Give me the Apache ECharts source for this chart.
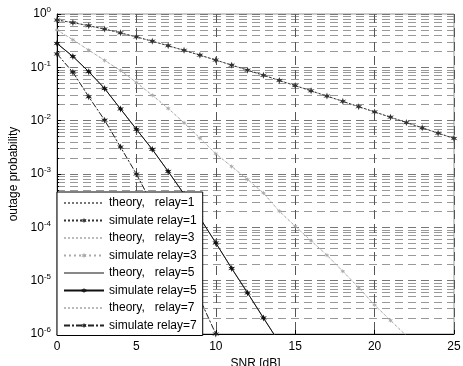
<!DOCTYPE html>
<html>
<head>
<meta charset="utf-8">
<script src="https://cdn.jsdelivr.net/npm/echarts@6/dist/echarts.min.js"></script>
<style>
  html, body { margin: 0; padding: 0; background: #fff; }
  #chart { width: 463px; height: 366px; }
</style>
</head>
<body>
<div id="chart"></div>
<script>
// SNR in dB (x axis)
var snrDb = [0, 1, 2, 3, 4, 5, 6, 7, 8, 9, 10, 11, 12, 13, 14, 15, 16, 17, 18, 19, 20, 21, 22, 23, 24, 25];

// outage probability, one value per dB
var relay1 = [0.770, 0.689, 0.604, 0.521, 0.443, 0.372, 0.309, 0.254, 0.208, 0.169, 0.137, 0.110, 0.0885,
              0.0710, 0.0568, 0.0454, 0.0362, 0.0289, 0.0230, 0.0183, 0.0146, 0.0116, 0.00923, 0.00734, 0.00583, 0.00464];
var relay3 = [0.50, 0.33, 0.21, 0.135, 0.087, 0.052, 0.030, 0.017, 0.0091, 0.0047, 0.0024, 0.00138, 7.9e-4,
              4.4e-4, 2.0e-4, 1.05e-4, 5.6e-5, 3.0e-5, 1.5e-5, 7.4e-6, 3.5e-6, 1.8e-6, 9.3e-7];
var relay5 = [0.28, 0.16, 0.083, 0.040, 0.0166, 0.0069, 0.0029, 0.00112, 4.2e-4, 1.5e-4, 5.1e-5, 1.7e-5, 5.9e-6, 2.0e-6, 6.9e-7];
var relay7 = [0.178, 0.081, 0.028, 0.0102, 0.0032, 0.0010, 2.7e-4, 7.1e-5, 1.8e-5, 4.5e-6, 1.0e-6];

var legendNames = ['theory,   relay=1', 'simulate relay=1', 'theory,   relay=3', 'simulate relay=3',
                   'theory,   relay=5', 'simulate relay=5', 'theory,   relay=7', 'simulate relay=7'];

var xTicks = [0, 5, 10, 15, 20, 25];

function pairs(arr) {
  return arr.map(function (v, i) { return [snrDb[i], v]; });
}

var star = 'path://M0,-10 L2.2,-3.2 L8.7,-5 L4,0 L8.7,5 L2.2,3.2 L0,10 L-2.2,3.2 L-8.7,5 L-4,0 L-8.7,-5 L-2.2,-3.2Z';

var FONT = 'Liberation Sans, Arial, sans-serif';

var chart = echarts.init(document.getElementById('chart'));

// theory curves: plain line, transparent symbol so the legend shows only the line
function theory(name, data, color, type, width) {
  return {
    name: name, type: 'line', data: pairs(data),
    symbol: 'circle', showSymbol: false, z: 2,
    lineStyle: { color: color, type: type, width: width },
    itemStyle: { color: 'rgba(0,0,0,0)' }
  };
}
function simulate(name, data, color, type, width, size) {
  return {
    name: name, type: 'line', data: pairs(data),
    symbol: star, symbolSize: size, z: 3,
    lineStyle: { color: color, type: type, width: width },
    itemStyle: { color: color }
  };
}

var option = {
  animation: false,
  backgroundColor: '#fff',
  textStyle: { fontFamily: FONT },
  grid: {
    left: 57, right: 9, top: 14, bottom: 32,
    outerBoundsMode: 'none',
    show: true, borderColor: '#999', borderWidth: 1
  },
  legend: {
    data: legendNames,
    orient: 'vertical',
    left: 57, top: 192,
    padding: [5, 6, 4, 6],
    itemWidth: 40, itemHeight: 7, itemGap: 5.5,
    backgroundColor: '#fff', borderColor: '#000', borderWidth: 1,
    textStyle: { fontSize: 12, color: '#000', fontFamily: FONT },
    z: 10
  },
  xAxis: {
    type: 'value', min: xTicks[0], max: xTicks[xTicks.length - 1], interval: 5,
    name: 'SNR [dB]', nameLocation: 'middle', nameGap: 24,
    nameTextStyle: { fontSize: 12, color: '#000' },
    axisLine: { lineStyle: { color: '#000' } },
    axisTick: { inside: true, length: 4, lineStyle: { color: '#000' } },
    axisLabel: { color: '#000', fontSize: 12, margin: 7 },
    splitLine: { show: true, lineStyle: { color: '#555', type: [9, 5] } }
  },
  yAxis: {
    type: 'log', logBase: 10, min: 1e-6, max: 1, interval: 1,
    name: 'outage probability', nameLocation: 'middle', nameGap: 23,
    nameTextStyle: { fontSize: 12, color: '#000' },
    axisLine: { show: true, lineStyle: { color: '#000' } },
    axisTick: { inside: true, length: 4, lineStyle: { color: '#000' } },
    minorTick: { show: true, splitNumber: 9, length: 2, lineStyle: { color: '#000' } },
    minorSplitLine: { show: true, lineStyle: { color: '#999', type: [8, 5] } },
    axisLabel: {
      margin: 6,
      formatter: function (v) {
        var e = Math.round(Math.log(v) / Math.LN10);
        return '{b|10}{s|' + e + '}';
      },
      rich: {
        b: { fontSize: 12, color: '#000', fontFamily: FONT },
        s: { fontSize: 8, color: '#000', fontFamily: FONT, padding: [0, 0, 8, 0] }
      }
    },
    splitLine: { show: true, lineStyle: { color: '#777', type: [8, 5] } }
  },
  series: [
    theory(legendNames[0], relay1, '#777', 'dotted', 1),
    simulate(legendNames[1], relay1, '#333', [2, 2], 1, 7),
    theory(legendNames[2], relay3, '#bbb', 'dotted', 1),
    simulate(legendNames[3], relay3, '#aaa', [2, 3], 1, 5),
    theory(legendNames[4], relay5, '#888', 'solid', 1),
    simulate(legendNames[5], relay5, '#111', 'solid', 1, 7),
    theory(legendNames[6], relay7, '#bbb', 'dotted', 1),
    simulate(legendNames[7], relay7, '#222', [6, 2, 2, 2], 1, 7)
  ]
};

chart.setOption(option);
</script>
</body>
</html>
